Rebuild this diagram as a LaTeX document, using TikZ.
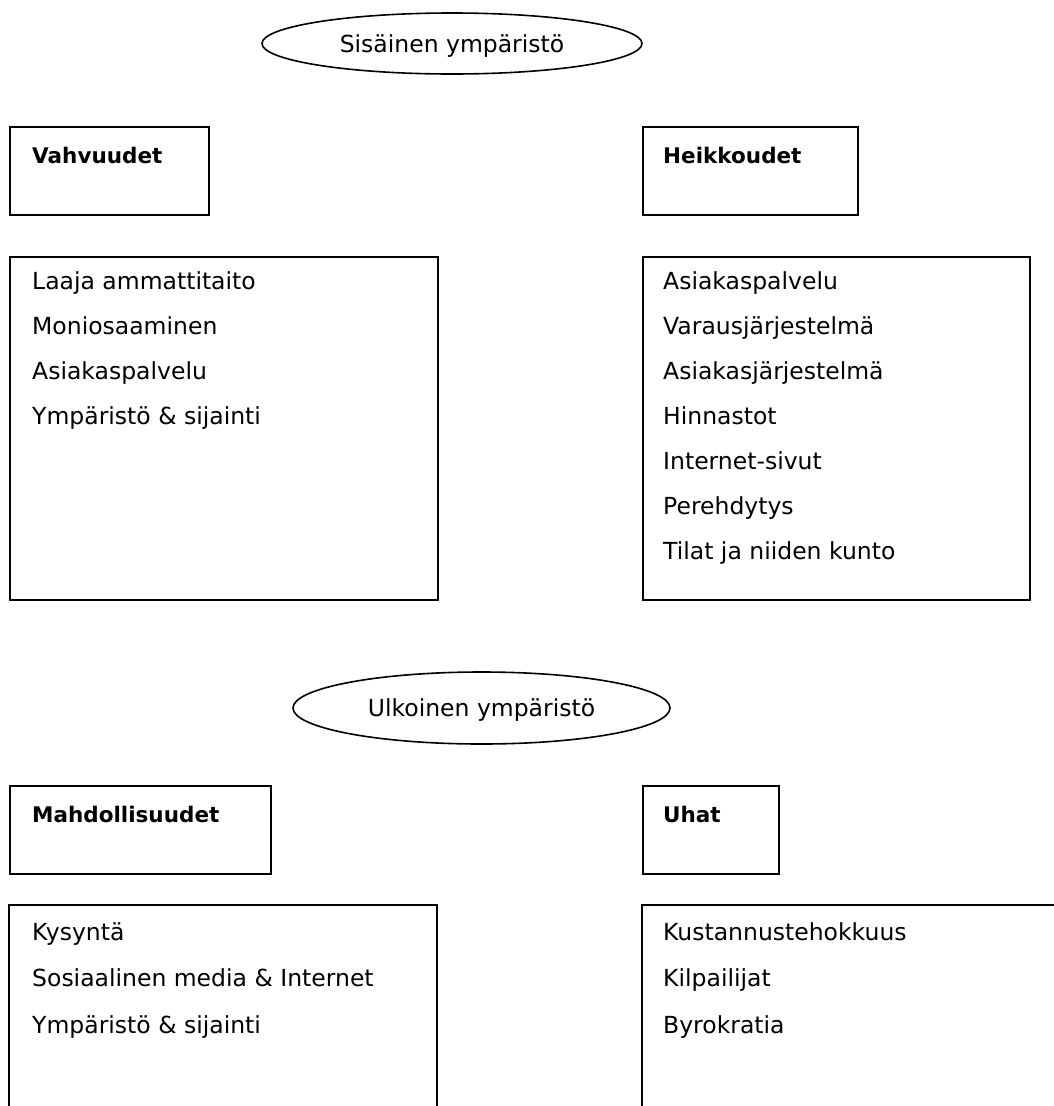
\documentclass[tikz,border=0pt]{standalone}
\usepackage{fontspec}
\setmainfont{DejaVu Sans}
\usepackage{tikz}
\usetikzlibrary{shapes.geometric,positioning}

\begin{document}
\begin{tikzpicture}[x=1pt,y=-1pt,
  env/.style={draw,line width=1.6pt,ellipse,inner sep=0pt,text height=17pt,text depth=0pt,font=\fontsize{23.5}{28}\selectfont},
  headbox/.style={draw,line width=1.8pt,anchor=north west,inner sep=0pt,minimum height=88pt},
  listbox/.style={draw,line width=1.8pt,anchor=north west,inner sep=0pt},
  head/.style={anchor=base west,inner sep=0pt,font=\fontsize{21.5}{26}\selectfont\bfseries},
  item/.style={anchor=base west,inner sep=0pt,font=\fontsize{23.5}{28}\selectfont}]
  \useasboundingbox (0,0) rectangle (1054,1106);
  \clip (0,0) rectangle (1054,1106);
  % sisainen
  \node[env,minimum width=380pt,minimum height=61pt] (sis) at (452,43.5) {Sisäinen ympäristö};
  \node[headbox,minimum width=199pt] (vahvbox) at (9,126) {};
  \node[head] (vahv) at (32,163) {Vahvuudet};
  \node[headbox,minimum width=215pt] (heikbox) at (642,126) {};
  \node[head] (heik) at (663,163) {Heikkoudet};
  \node[listbox,minimum width=428pt,minimum height=343pt] (vahvlist) at (9,256) {};
  \node[listbox,minimum width=387pt,minimum height=343pt] (heiklist) at (642,256) {};
  \foreach \t [count=\i] in {Laaja ammattitaito,Moniosaaminen,Asiakaspalvelu,Ympäristö \& sijainti}
    \node[item] (v\i) at (32,244+45*\i) {\t};
  \foreach \t [count=\i] in {Asiakaspalvelu,Varausjärjestelmä,Asiakasjärjestelmä,Hinnastot,Internet-sivut,Perehdytys,Tilat ja niiden kunto}
    \node[item] (h\i) at (663,244+45*\i) {\t};
  % ulkoinen
  \node[env,minimum width=377pt,minimum height=72pt] (ulk) at (481.5,708) {Ulkoinen ympäristö};
  \node[headbox,minimum width=261pt] (mahdbox) at (9,785) {};
  \node[head] (mahd) at (32,822) {Mahdollisuudet};
  \node[headbox,minimum width=136pt] (uhatbox) at (642,785) {};
  \node[head] (uhat) at (663,822) {Uhat};
  \coordinate (ml) at (9,1120);
  \coordinate (mr) at (437,1120);
  \coordinate (ul) at (642,1120);
  \coordinate (ur) at (1070,905);
  \draw[line width=1.8pt] (ml) -- (9,905) -- (437,905) -- (mr);
  \draw[line width=1.8pt] (ul) -- (642,905) -- (ur);
  \foreach \t [count=\i] in {Kysyntä,Sosiaalinen media \& Internet,Ympäristö \& sijainti}
    \node[item] (m\i) at (32,893.5+46.5*\i) {\t};
  \foreach \t [count=\i] in {Kustannustehokkuus,Kilpailijat,Byrokratia}
    \node[item] (u\i) at (663,893.5+46.5*\i) {\t};
\end{tikzpicture}
\end{document}
